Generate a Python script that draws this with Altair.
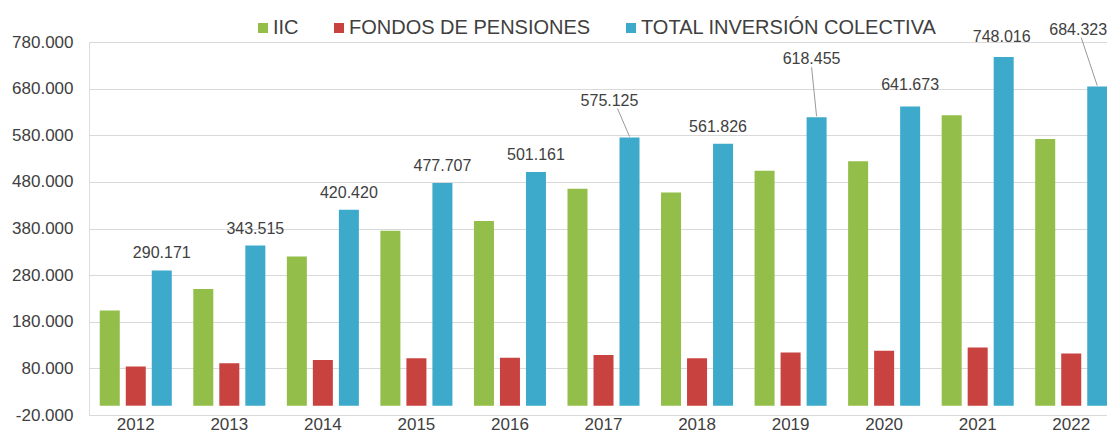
import altair as alt
import pandas as pd

FONT = "Liberation Sans"

years = ["2012", "2013", "2014", "2015", "2016", "2017", "2018", "2019", "2020", "2021", "2022"]
series_names = ["IIC", "FONDOS DE PENSIONES", "TOTAL INVERSIÓN COLECTIVA"]
iic = [204000, 250000, 320000, 375000, 396000, 465000, 457000, 504000, 524000, 623000, 572000]
pensiones = [84000, 91000, 98000, 101500, 103000, 108600, 101500, 114300, 118000, 125000, 112000]
total = [290171, 343515, 420420, 477707, 501161, 575125, 561826, 618455, 641673, 748016, 684323]
y_ticks = [-20000, 80000, 180000, 280000, 380000, 480000, 580000, 680000, 780000]
colors = ["#93BE49", "#C8423F", "#3DAACB"]

rows = []
for i, yr in enumerate(years):
    for s, vals in zip(series_names, [iic, pensiones, total]):
        rows.append({"year": yr, "series": s, "value": vals[i]})
df = pd.DataFrame(rows)

tot_df = pd.DataFrame({"year": years, "value": total})
tot_df["label"] = [f"{v:,}".replace(",", ".") for v in total]

# label placement (pixel offsets from the top of the blue bar)
BLUE_SHIFT = 26
label_pos = {
    "2017": (-20, -37), "2018": (-5, -17), "2019": (-5, -58),
    "2020": (0, -21), "2021": (-2, -20), "2022": (-19, -57),
}
default_pos = (0, -17)
leaders = {"2017": (-12, -29), "2019": (-5, -50), "2022": (-16, -49)}

x_scale = alt.Scale(range=[0, 1029], paddingInner=0.23, paddingOuter=0.115)

bars = alt.Chart(df).mark_bar().encode(
    x=alt.X("year:N", title=None, sort=years, scale=x_scale,
            axis=alt.Axis(labelAngle=0, ticks=False, labelFontSize=17, labelColor="#404040",
                          labelPadding=1, domainColor="#d9d9d9", grid=False, labelFont=FONT)),
    xOffset=alt.XOffset("series:N", sort=series_names,
                        scale=alt.Scale(paddingInner=0.2308, paddingOuter=0)),
    y=alt.Y("value:Q", title=None,
            scale=alt.Scale(domain=[-20000, 780000], nice=False, zero=False),
            axis=alt.Axis(values=y_ticks, ticks=False, domain=False, gridColor="#d9d9d9",
                          labelFontSize=17, labelColor="#404040", labelPadding=16, labelFont=FONT,
                          labelExpr="replace(replace(format(datum.value, ',d'), ',', '.'), '\u2212', '-')")),
    y2=alt.datum(0),
    color=alt.Color("series:N", sort=series_names,
                    scale=alt.Scale(domain=series_names, range=colors),
                    legend=alt.Legend(orient="none", legendX=164, legendY=-24, direction="horizontal",
                                      title=None, symbolType="square", symbolSize=100,
                                      symbolStrokeWidth=0, labelFontSize=20, labelColor="#404040",
                                      labelFont=FONT, labelOffset=0, columnPadding=30,
                                      labelLimit=500, padding=0)),
)

layers = [bars]
for yr in years:
    dx, dy = label_pos.get(yr, default_pos)
    layers.append(
        alt.Chart(tot_df).transform_filter(alt.datum.year == yr).mark_text(
            dx=BLUE_SHIFT + dx, dy=dy, fontSize=16, color="#404040", font=FONT, baseline="middle"
        ).encode(x=alt.X("year:N", sort=years), y=alt.Y("value:Q"), text="label:N")
    )

for yr, (ex, ey) in leaders.items():
    layers.append(
        alt.Chart(tot_df).transform_filter(alt.datum.year == yr).mark_rule(
            color="#9a9a9a", strokeWidth=1, xOffset=BLUE_SHIFT, x2Offset=BLUE_SHIFT + ex,
            yOffset=-1, y2Offset=ey
        ).encode(x=alt.X("year:N", sort=years), x2=alt.X2("year"),
                 y=alt.Y("value:Q"), y2=alt.Y2("value"))
    )

chart = alt.layer(*layers).properties(
    width=1018, height=373,
    autosize=alt.AutoSizeParams(type="none"),
    padding={"left": 81, "top": 34, "right": 0, "bottom": 18},
).configure_view(stroke=None).configure(background="white")

chart.save("out.html", embed_options={"renderer": "svg", "actions": False})
